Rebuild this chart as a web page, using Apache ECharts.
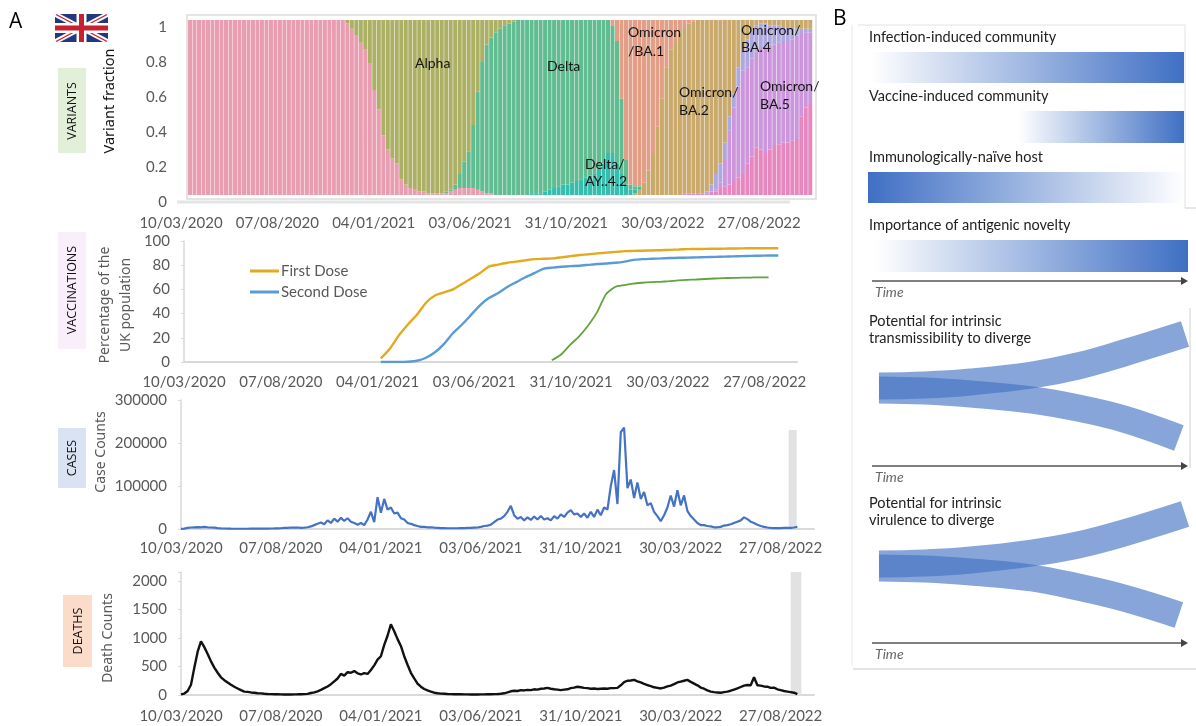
<!DOCTYPE html>
<html>
<head>
<meta charset="utf-8">
<title>UK variants, vaccinations, cases and deaths</title>
<script src="https://cdn.jsdelivr.net/npm/echarts@6/dist/echarts.min.js"></script>
<style>
  html, body { margin: 0; background: #fff; }
  #main { width: 1196px; height: 726px; }
</style>
</head>
<body>
<div id="main"></div>
<script>
// x tick labels, one every 150 days
const tickLabels = ['10/03/2020', '07/08/2020', '04/01/2021', '03/06/2021', '31/10/2021', '30/03/2022', '27/08/2022'];

// variant share per week (percent of sequences), weeks counted from the first bar
const ancestral = [100,100,100,100,100,100,100,100,100,100,100,100,100,100,100,100,100,100,100,100,100,100,100,100,100,100,100,100,100,100,100,100,100,100,100,
  98,95,91,87,83,75,60,49,34,26,21,18,9,6,4,3,2,2,1,1,1,1,1,2,3,4,4,4,4,3,2,1,1];
const otherStart = 110;
const other = [1,1,1,1,1,1,2,2,4,5,6,8,10,12,18,22,27,26,24,26,28,29,30,30,31,32,45,50,52];
const ba5Start = 117;
const ba5 = [1,3,15,31,42,52,59,55,56,55,58,61,60,58,58,58,58,58,59,47,43,41];
const ba4Start = 115;
const ba4 = [1,4,9,11,10,8,8,11,12,16,16,15,14,13,11,11,10,8,8,7,4,3,2,2];
const ba2Start = 99;
const ba2 = [1,3,7,14,24,39,55,73,83,88,93,95,97,98,99,99,98,94,88,82,70,55,42,27,17,11,6,3,2,2,3,3,3,4,4,4,5,5,5,5];
const ay42Start = 76;
const ay42 = [1,1,1,2,3,4,5,6,6,7,8,9,10,11,12,15,18,24,24,18,12,6,3,2,1];
const deltaStart = 57;
const delta = [1,1,3,8,15,21,36,56,74,85,89,93,95,97,98,99,100,100,100,
  99,99,99,98,97,96,95,94,94,93,92,91,90,89,88,85,82,76,73,70,43,14,3,2,1];
const ba1Start = 94;
const ba1 = [3,12,45,80,94,95,95,93,86,76,61,45,27,17,12,7,4,2,1];
const alphaStart = 35;
const alpha = [2,5,9,13,17,25,40,51,66,74,79,82,91,94,96,97,98,98,99,99,99,99,98,97,94,88,81,75,60,41,24,14,10,7,5,3,2,1];
const weekCount = 139;
const barFloor = 4; // the bars sit a little above the zero line in the source

// vaccination uptake, % of UK population, one value every 14 days
const firstDose = [3,11,22,31,39,49,55,57.5,60,64.5,69,73.5,79,80.5,82,83,84,85,85.3,85.6,86.5,87.5,88.4,89,89.8,90.4,91,91.6,91.8,92,92.2,92.4,92.7,93,93.3,93.4,93.5,93.6,93.7,93.8,93.9,94,94,94,94];
const secondDose = [0,0,0,0.2,1,3.5,8,15,24,31,39,47,53,57,62,66,70,73.5,77,78,78.7,79.2,79.6,80.3,81,81.4,82,83,84.4,85,85.3,85.6,85.9,86.1,86.3,86.5,86.7,86.9,87.1,87.3,87.5,87.7,87.8,88,88];
const thirdDose = [1.5,6,14,21,30,41,56,62,63.5,64.8,65.5,66,66.3,66.8,67.4,67.9,68.2,68.6,69,69.3,69.5,69.7,69.8,70,70];
const vaccineStartDay = 305;
const thirdStartDay = 570;

// daily counts read every 5 days
const caseCounts = [200,1000,2500,3500,4000,4500,4000,4800,4000,3500,3000,2200,1500,1200,900,700,600,600,550,600,
  600,700,700,800,900,1000,1100,1200,1300,1500,1800,2500,2800,3500,3000,3500,2500,3000,4000,6000,
  9000,12000,15000,11000,20000,14000,24000,17000,26000,19000,25000,17000,14000,10000,14000,9000,22000,40000,16000,74000,
  38000,70000,45000,50000,36000,38000,25000,22000,14000,12000,9000,7000,5000,5000,4000,4000,3000,2500,2000,2000,
  1800,1800,1700,1700,2000,2200,2500,2500,3000,3500,5000,7000,8000,10000,16000,22000,24000,30000,40000,54000,
  32000,24000,28000,20000,27000,21000,29000,22000,30000,22000,25000,20000,30000,24000,34000,28000,38000,44000,34000,36000,
  28000,36000,26000,40000,28000,45000,32000,50000,45000,100000,137000,58000,225000,236000,95000,115000,72000,108000,70000,86000,
  55000,60000,40000,30000,18000,32000,50000,78000,52000,90000,55000,78000,42000,30000,22000,14000,9000,9000,7000,6000,
  4000,4000,5000,8000,9000,11000,14000,17000,20000,27000,23000,17000,14000,10000,7000,5000,3500,2500,2000,2200,
  2000,2500,2500,2500,3500,5000];
const deathCounts = [10,25,70,180,480,760,940,840,720,590,480,390,310,260,220,180,145,115,85,60,
  55,45,40,30,28,22,18,15,13,12,11,10,10,10,11,12,14,15,20,35,
  45,65,90,120,150,190,240,290,370,340,400,390,420,380,360,385,370,440,520,620,
  680,880,1040,1240,1120,980,860,680,530,390,290,200,145,105,80,60,40,30,25,22,
  18,15,14,13,12,11,11,10,10,10,11,11,12,13,15,18,22,30,45,65,
  75,70,85,80,90,85,100,95,110,115,125,110,100,95,85,95,100,120,130,145,
  135,125,120,110,115,105,110,115,110,120,120,125,170,225,250,255,265,240,220,195,
  175,155,135,125,115,130,150,165,190,220,235,250,265,230,200,170,130,110,80,60,
  50,45,40,50,60,75,95,115,140,165,175,170,310,170,165,150,145,125,130,100,
  85,70,60,50,40,15];
const caseBarDays = [912, 924];
const caseBarTop = 230000;
const deathBarDays = [915, 931];
const deathBarTop = 2158;

// panel B, how far each strand moves from the shared start over time
const ribbonTime = [0, 15, 30, 50, 65, 80, 100];
const ribbonTimeDown = [0, 15, 30, 50, 65, 80, 98];
const transmissibilityUp = [2, 3, 6, 13, 22, 35, 54];
const transmissibilityDown = [-2, -3, -6, -12, -20, -31, -50];
const virulenceUp = [2, 3, 6, 13, 21, 33, 52];
const virulenceDown = [-2, -3, -6, -12, -21, -32, -49];

const font = 'Lato';
const grey = '#595959';

function toPoints(values, startDay, stepDays) {
  return values.map((v, i) => [startDay + i * stepDays, v]);
}

// one full row per week so every band stacks on the same index
function weekly(values, start) {
  let out = [];
  for (let i = 0; i < weekCount; i++) {
    out.push(i >= start && i - start < values.length ? values[i - start] : 0);
  }
  return out;
}

function xAxisFor(gridIndex, max, margin, showLine) {
  return {
    gridIndex: gridIndex, type: 'value', min: 0, max: max, interval: 150,
    splitLine: { show: false },
    axisLine: { show: showLine, onZero: false, lineStyle: { color: '#d9d9d9', width: 2 } },
    axisTick: { show: false },
    axisLabel: {
      margin: margin, color: grey, fontFamily: font, fontSize: 15, hideOverlap: false,
      showMinLabel: true, showMaxLabel: true,
      formatter: v => tickLabels[v / 150] || ''
    }
  };
}

function yAxisFor(gridIndex, max, interval, showLine, fmt) {
  return {
    gridIndex: gridIndex, type: 'value', min: 0, max: max, interval: interval,
    splitLine: { show: false },
    axisLine: { show: showLine, lineStyle: { color: '#d9d9d9', width: 1.5 } },
    axisTick: { show: showLine, length: 3, lineStyle: { color: '#d9d9d9' } },
    axisLabel: { margin: 14, color: grey, fontFamily: font, fontSize: 15, formatter: fmt || (v => String(v)) }
  };
}

function hiddenAxis(gridIndex, min, max) {
  return { gridIndex: gridIndex, type: 'value', min: min, max: max, show: false };
}

// stacked bars, bottom to top
let variantBands = [
  ['Ancestral', ancestral, 0, '#e89db1'],
  ['Other', other, otherStart, '#e688bf'],
  ['Omicron/BA.5', ba5, ba5Start, '#cb96dc'],
  ['Omicron/BA.4', ba4, ba4Start, '#aea8e1'],
  ['Omicron/BA.2', ba2, ba2Start, '#c9a96c'],
  ['Delta/AY.4.2', ay42, ay42Start, '#35bdae'],
  ['Delta', delta, deltaStart, '#61bd91'],
  ['Omicron/BA.1', ba1, ba1Start, '#e29e87'],
  ['Alpha', alpha, alphaStart, '#abb064']
];
let weekNames = [];
for (let i = 0; i < weekCount; i++) weekNames.push('week ' + i);

let series = [{
  name: 'floor', type: 'bar', stack: 'variants', barWidth: 4, silent: true,
  xAxisIndex: 6, yAxisIndex: 6, itemStyle: { color: 'transparent' },
  data: weekNames.map(() => barFloor)
}];
variantBands.forEach(b => {
  series.push({
    name: b[0], type: 'bar', stack: 'variants', barWidth: 4,
    xAxisIndex: 6, yAxisIndex: 6, itemStyle: { color: b[3] },
    data: weekly(b[1], b[2])
  });
});

function lineSeries(name, axis, data, color, width, extra) {
  return Object.assign({
    name: name, type: 'line', xAxisIndex: axis, yAxisIndex: axis, data: data,
    symbol: 'none', lineStyle: { color: color, width: width }, itemStyle: { color: color }
  }, extra || {});
}

series.push(lineSeries('First Dose', 1, toPoints(firstDose, vaccineStartDay, 14), '#e2aa1c', 2.4, { smooth: 0.2 }));
series.push(lineSeries('Second Dose', 1, toPoints(secondDose, vaccineStartDay, 14), '#5b9bd5', 2.4, { smooth: 0.2 }));
series.push(lineSeries('Third Dose', 1, toPoints(thirdDose, thirdStartDay, 14), '#62a33e', 1.8, { smooth: 0.2 }));

function greyBand(days, top) {
  return {
    silent: true, itemStyle: { color: '#e2e2e2' },
    data: [[{ xAxis: days[0], yAxis: 0 }, { xAxis: days[1], yAxis: top }]]
  };
}
series.push(lineSeries('Cases', 2, toPoints(caseCounts, 0, 5), '#4472c4', 2.2, { markArea: greyBand(caseBarDays, caseBarTop) }));
series.push(lineSeries('Deaths', 3, toPoints(deathCounts, 0, 5), '#111111', 2.4, { markArea: greyBand(deathBarDays, deathBarTop) }));

function ribbon(name, axis, times, values) {
  let pts = times.map((t, i) => [t, values[i]]);
  return {
    name: name, type: 'line', xAxisIndex: axis, yAxisIndex: axis, data: pts, smooth: 0.4, clip: false,
    symbol: 'none', silent: true, lineStyle: { color: 'rgba(68,114,196,0.64)', width: 27, cap: 'butt' }
  };
}
series.push(ribbon('Transmissibility up', 4, ribbonTime, transmissibilityUp));
series.push(ribbon('Transmissibility down', 4, ribbonTimeDown, transmissibilityDown));
series.push(ribbon('Virulence up', 5, ribbonTime, virulenceUp));
series.push(ribbon('Virulence down', 5, ribbonTimeDown, virulenceDown));

// text, tags and other drawing that has no data behind it
let graphic = [];

function text(x, y, str, size, opts) {
  opts = opts || {};
  graphic.push({
    type: 'text', x: x, y: y, z: 100, rotation: opts.rotate ? Math.PI / 2 : 0, silent: true,
    style: {
      text: str, fill: opts.color || '#222', font: (opts.italic ? 'italic ' : '') + size + 'px ' + (opts.family || font),
      textAlign: opts.align || 'left', textVerticalAlign: 'middle'
    }
  });
}

function box(x, y, w, h, fill) {
  graphic.push({ type: 'rect', silent: true, shape: { x: x, y: y, width: w, height: h }, style: { fill: fill } });
}

function rule(x1, y1, x2, y2, color, width) {
  graphic.push({ type: 'line', silent: true, shape: { x1: x1, y1: y1, x2: x2, y2: y2 }, style: { stroke: color, lineWidth: width } });
}

text(9, 22, 'A', 21, { family: 'Open Sans', color: '#000' });
text(833, 19, 'B', 21, { family: 'Open Sans', color: '#000' });

// flag
box(55, 14, 53, 28, '#22397f');
graphic.push({ type: 'polygon', silent: true, shape: { points: [[55,14],[60,14],[108,39],[108,42],[103,42],[55,17]] }, style: { fill: '#fff' } });
graphic.push({ type: 'polygon', silent: true, shape: { points: [[103,14],[108,14],[108,17],[60,42],[55,42],[55,39]] }, style: { fill: '#fff' } });
rule(56, 14.5, 107, 41.5, '#c8202f', 1.4);
rule(107, 14.5, 56, 41.5, '#c8202f', 1.4);
box(76.5, 14, 10, 28, '#fff');
box(55, 23, 53, 10, '#fff');
box(79, 14, 5, 28, '#c8202f');
box(55, 25.5, 53, 5, '#c8202f');

// panel tags
box(58, 68, 28, 85, '#e2f0d9');
text(72, 111, 'VARIANTS', 12.5, { rotate: true, align: 'center', family: 'Open Sans', color: '#111' });
box(58, 232, 28, 117, '#f9effb');
text(72, 290, 'VACCINATIONS', 12.5, { rotate: true, align: 'center', family: 'Open Sans', color: '#111' });
box(58, 428, 28, 60, '#dae3f3');
text(72, 458, 'CASES', 12.5, { rotate: true, align: 'center', family: 'Open Sans', color: '#111' });
box(63, 595, 29, 72, '#fbdccb');
text(78, 631, 'DEATHS', 12.5, { rotate: true, align: 'center', family: 'Open Sans', color: '#111' });

// y titles
text(110, 101, 'Variant fraction', 14.5, { rotate: true, align: 'center', family: 'Noto Sans', color: '#111' });
text(105, 305, 'Percentage of the', 14, { rotate: true, align: 'center', family: 'Noto Sans', color: grey });
text(126, 305, 'UK population', 14, { rotate: true, align: 'center', family: 'Noto Sans', color: grey });
text(101, 452, 'Case Counts', 14, { rotate: true, align: 'center', family: 'Noto Sans', color: grey });
text(108, 638, 'Death Counts', 14, { rotate: true, align: 'center', family: 'Noto Sans', color: grey });

// frame and base line of the variants panel
graphic.push({ type: 'rect', silent: true, shape: { x: 187, y: 15, width: 629, height: 184 }, style: { fill: 'none', stroke: '#dcdcdc', lineWidth: 1.5 } });
rule(177, 202, 790, 202, '#e4e4e4', 3);

// variant names
[['Alpha', 415, 63], ['Delta', 547, 66], ['Omicron', 628, 32], ['/BA.1', 628, 51], ['Omicron/', 679, 92], ['BA.2', 679, 110],
 ['Delta/', 585, 164], ['AY..4.2', 585, 181], ['Omicron/', 741, 30], ['BA.4', 741, 47], ['Omicron/', 760, 86], ['BA.5', 760, 104]]
  .forEach(t => text(t[1], t[2], t[0], 14, { color: '#151515' }));

// panel B frame
rule(858, 25, 1185, 25, '#e2e2e2', 1);
rule(1185, 25, 1185, 208, '#e2e2e2', 1);
rule(1185, 208, 1196, 208, '#d0d0d0', 1);
rule(852, 25, 852, 665, '#e8e8e8', 1);
rule(853, 669, 1196, 669, '#c8c8c8', 1);
rule(1190, 308, 1190, 468, '#d0d0d0', 1);

// panel B gradients, blue end on the right unless flipped
const fadeStops = [{ offset: 0, color: 'rgba(63,111,196,0)' }, { offset: 1, color: '#3f6fc4' }];
function fadeBar(x, y, w, h, flip) {
  graphic.push({
    type: 'rect', silent: true, shape: { x: x, y: y, width: w, height: h },
    style: { fill: new echarts.graphic.LinearGradient(flip ? 1 : 0, 0, flip ? 0 : 1, 0, fadeStops) }
  });
}
text(869, 37, 'Infection-induced community', 14.5);
fadeBar(870, 52, 314, 31);
text(869, 96, 'Vaccine-induced community', 14.5);
fadeBar(1018, 111, 166, 32);
text(869, 157, 'Immunologically-naïve host', 14.5);
fadeBar(868, 172, 317, 31, true);
text(869, 225, 'Importance of antigenic novelty', 14.5);
fadeBar(875, 240, 313, 32);

text(869, 321, 'Potential for intrinsic', 14.5);
text(869, 338, 'transmissibility to diverge', 14.5);
text(869, 503, 'Potential for intrinsic', 14.5);
text(869, 520, 'virulence to diverge', 14.5);

function timeArrow(y) {
  rule(872, y, 1181, y, '#555', 1.4);
  graphic.push({ type: 'polygon', silent: true, shape: { points: [[1181, y - 4], [1188, y], [1181, y + 4]] }, style: { fill: '#444' } });
  text(875, y + 11, 'Time', 14, { italic: true, color: '#666' });
}
timeArrow(281);
timeArrow(466);
timeArrow(643);

let option = {
  animation: false,
  backgroundColor: '#fff',
  textStyle: { fontFamily: font },
  grid: [
    { left: 181, top: 20, width: 636, height: 182 },
    { left: 184, top: 241, width: 613, height: 121 },
    { left: 181, top: 400, width: 633, height: 129 },
    { left: 181, top: 572, width: 633, height: 123 },
    { left: 879, top: 323, width: 306, height: 130 },
    { left: 879, top: 501, width: 306, height: 130 },
    { left: 187.8, top: 20, width: 624.7, height: 182 }
  ],
  xAxis: [
    xAxisFor(0, 990, 14, false),
    xAxisFor(1, 950, 13, true),
    xAxisFor(2, 950, 12, true),
    xAxisFor(3, 950, 14, true),
    hiddenAxis(4, 0, 100),
    hiddenAxis(5, 0, 100),
    { gridIndex: 6, type: 'category', data: weekNames, show: false }
  ],
  yAxis: [
    yAxisFor(0, 104, 20, false, v => v > 100 ? '' : String(v / 100)),
    yAxisFor(1, 100, 20, true),
    yAxisFor(2, 300000, 100000, true),
    yAxisFor(3, deathBarTop, 500, true, v => v > 2000 ? '' : String(v)),
    hiddenAxis(4, -65, 65),
    hiddenAxis(5, -65, 65),
    hiddenAxis(6, 0, 104)
  ],
  legend: {
    data: ['First Dose', 'Second Dose'], orient: 'vertical', left: 245, top: 257, icon: 'rect',
    itemWidth: 29, itemHeight: 3, itemGap: 3, selectedMode: false,
    textStyle: { color: grey, fontFamily: font, fontSize: 15, lineHeight: 18, padding: [0, 0, 0, -3] }
  },
  series: series,
  graphic: graphic
};

let chart = echarts.init(document.getElementById('main'));
chart.setOption(option);
</script>
</body>
</html>
